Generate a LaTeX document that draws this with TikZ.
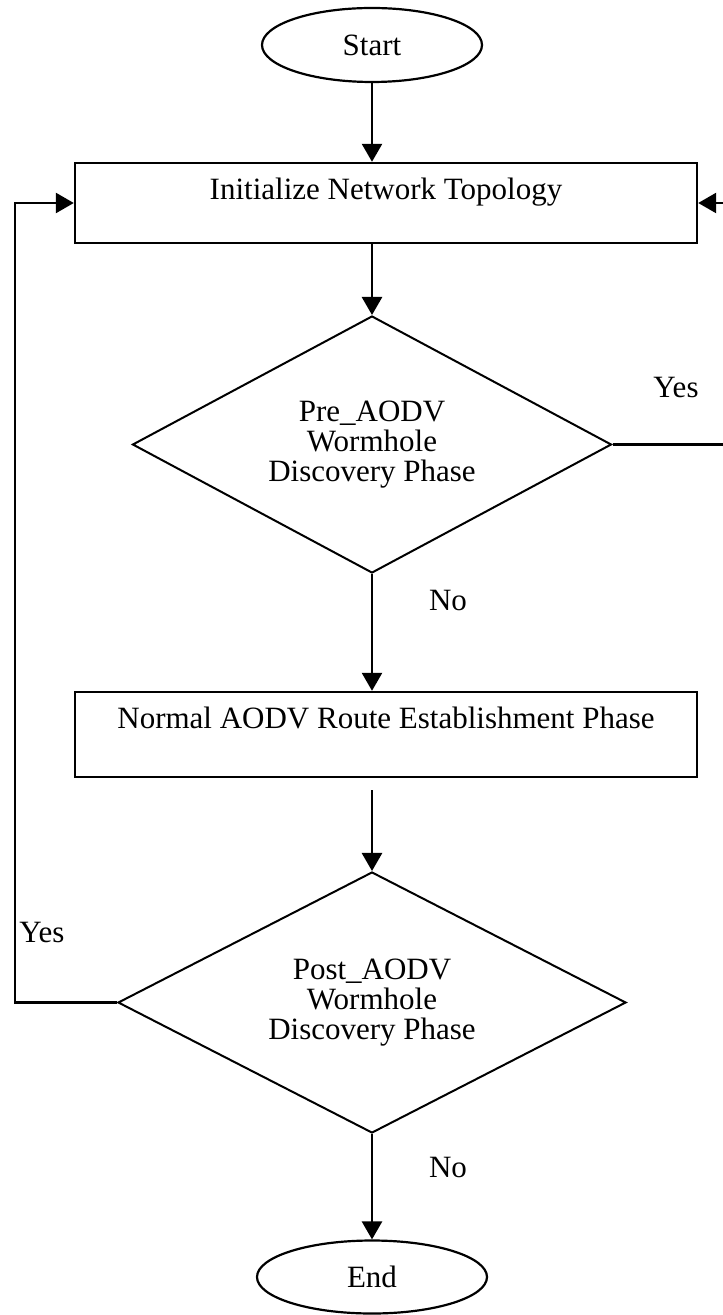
\documentclass[tikz,border=0pt]{standalone}
\usepackage{fontspec}
\setmainfont{Liberation Serif}
\usetikzlibrary{shapes.geometric}
\usetikzlibrary{arrows.meta}

\begin{document}
\begin{tikzpicture}
[x=0.5pt,y=-0.5pt,
  every node/.style={font=\fontsize{15.5}{15}\selectfont},
  terminal/.style={shape=ellipse,draw,line width=1.1pt,inner sep=0pt},%
  procbox/.style={shape=rectangle,draw,line width=1.2pt,inner xsep=0pt,inner ysep=0pt,minimum width=311pt},
  decision/.style={shape=diamond,draw,line width=1pt,inner sep=0pt,align=center},
  flowline/.style={-{Triangle[length=9pt,width=10pt]},line width=1.3pt}]
\useasboundingbox (0,0) rectangle (722,1315);
% nodes or vertices
\node (start) at (372,45) [terminal,minimum width=110pt,minimum height=37pt] {Start};
\node (init) at (386,203) [procbox,text height=18.5pt,text depth=21.5pt] {Initialize Network Topology};
\node (pre) at (372,444.5) [decision,aspect=1.86,minimum width=239.5pt,minimum height=128.5pt] {Pre\_AODV\\Wormhole\\Discovery Phase};
\node (route) at (386,734.5) [procbox,text height=18pt,text depth=24.5pt] {Normal AODV Route Establishment Phase};
\node (post) at (372,1002.5) [decision,aspect=1.95,minimum width=254pt,minimum height=130.5pt] {Post\_AODV\\Wormhole\\Discovery Phase};
\node (end) at (372,1277) [terminal,minimum width=115pt,minimum height=36.5pt] {End};
% branch labels
\node (preyes) at (676,388) {Yes};
\node (preno) at (448,600) {No};
\node (postyes) at (42,932) {Yes};
\node (postno) at (448,1167) {No};
% turning points
\coordinate (routeout) at (372,790);
\coordinate (rightturn) at (735,444.5);
\coordinate (leftturn) at (15,1002.5);
% edges or lines
\path
(start) edge[flowline] (start |- init.north)
(init.south -| pre) edge[flowline] (pre)
(pre) edge[flowline] (pre |- route.north)
(routeout) edge[flowline] (post)
(post) edge[flowline] (end);
% loops back to the topology box
\draw[flowline] (pre.east) -- (rightturn) |- (init.east);
\draw[flowline] (post.west) -- (leftturn) |- (init.west);
\end{tikzpicture}
\end{document}
